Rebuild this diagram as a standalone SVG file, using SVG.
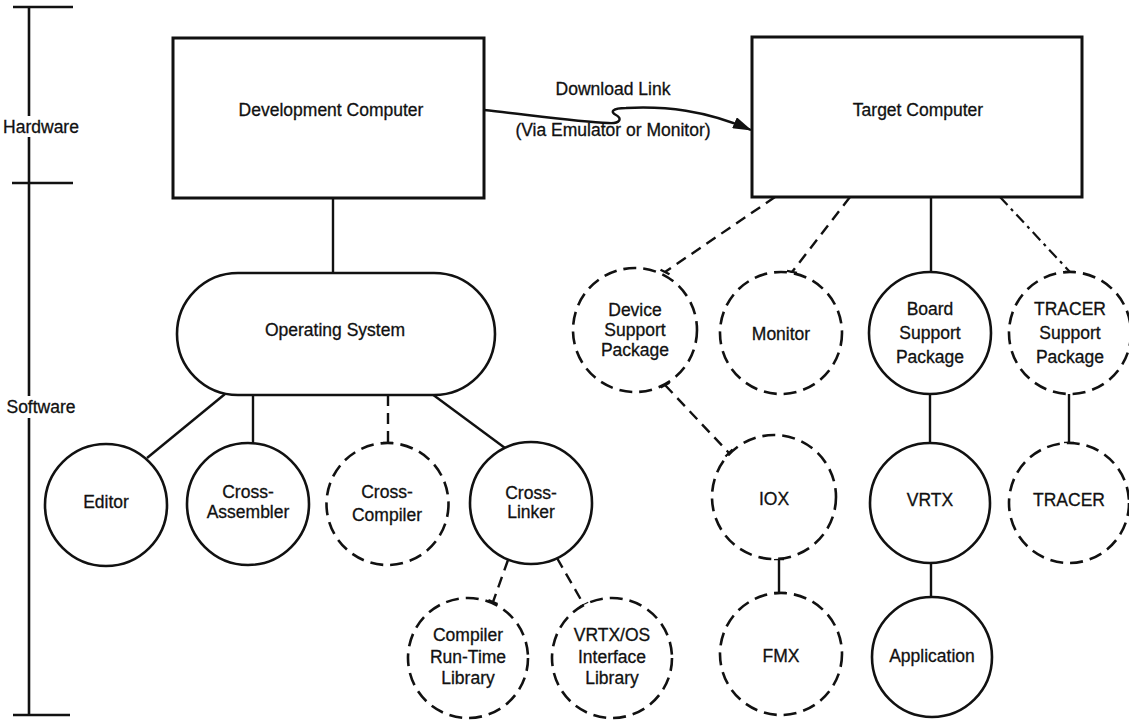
<svg xmlns="http://www.w3.org/2000/svg" width="1129" height="722" viewBox="0 0 1129 722">
  <style>
    text { font-family: "Liberation Sans", Arial, Helvetica, sans-serif; font-size: 17.5px; fill: #111; stroke: #111; stroke-width: 0.3; text-anchor: middle; }
    .box { fill: #fff; stroke: #111; stroke-width: 3; }
    .solid { fill: #fff; stroke: #111; stroke-width: 2.6; }
    .dashed { fill: #fff; stroke: #111; stroke-width: 2.6; stroke-dasharray: 13 7; }
    .ln { fill: none; stroke: #111; stroke-width: 2.4; }
    .dl { fill: none; stroke: #111; stroke-width: 2.4; stroke-dasharray: 11 7; }
    .dd { fill: none; stroke: #111; stroke-width: 2.2; stroke-dasharray: 11 5 3 5; }
    .tick { fill: none; stroke: #111; stroke-width: 2.4; }
    .axis { fill: none; stroke: #111; stroke-width: 2.6; }
  </style>
  <defs>
    <marker id="arrow" markerWidth="20" markerHeight="12" refX="18" refY="6" orient="auto" markerUnits="userSpaceOnUse">
      <path d="M0,0 L19,6 L0,12 Z" fill="#111"/>
    </marker>
  </defs>
  <rect width="1129" height="722" fill="#fff"/>

  <!-- Hardware / Software scale on the left -->
  <g id="scale">
    <path class="axis" d="M29,7 V116 M29,137 V396 M29,418 V715"/>
    <path class="axis" d="M13,7 H73 M12,183 H73 M13,715 H70"/>
    <text x="41" y="133">Hardware</text>
    <text x="41" y="413">Software</text>
  </g>

  <!-- connectors -->
  <g id="connectors">
    <!-- host side -->
    <path class="ln" d="M333,198 V273"/>
    <path class="ln" d="M225,394 L147,458"/>
    <path class="ln" d="M253,395 V443"/>
    <path class="dl" d="M388,395 V443"/>
    <path class="ln" d="M432,394 L505,448"/>
    <path class="dl" d="M508,560 L493,602"/>
    <path class="dl" d="M557,558 L584,605"/>
    <!-- download link -->
    <path class="ln" marker-end="url(#arrow)" d="M484,110 C530,115 580,122 608,123 C621,124 622,118 616,115 C610,112 612,108 626,108 C665,106 705,110 751,130"/>
    <!-- target side -->
    <path class="dl" d="M775,197 L665,272"/>
    <path class="dl" d="M850,197 L792,272"/>
    <path class="ln" d="M931,197 V272"/>
    <path class="dd" d="M1000,197 L1070,272"/>
    <path class="dl" d="M665,385 L729,453"/>
    <path class="ln" d="M779,559 V593"/>
    <path class="ln" d="M930,393 V443"/>
    <path class="ln" d="M1069,394 V443"/>
    <path class="ln" d="M931,563 V598"/>
    <!-- end ticks where lines meet dashed outlines -->
    <path class="tick" d="M383,443 H393 M660.5,269.7 L669.5,274.3 M787,271 L797,273 M1065,272 H1075 M660.6,387.4 L669.4,382.6 M725.5,456.5 L732.5,449.5 M774,559 H784 M774,593 H786 M488.4,600 L497.6,604 M579.5,607.3 L588.5,602.7 M1064,443 H1074"/>
  </g>

  <g id="development-computer">
    <rect class="box" x="173" y="38" width="311" height="160"/>
    <text x="331" y="116">Development Computer</text>
  </g>

  <g id="download-link-label">
    <text x="613" y="95">Download Link</text>
    <text x="613" y="136">(Via Emulator or Monitor)</text>
  </g>

  <g id="target-computer">
    <rect class="box" x="752" y="37" width="330" height="160"/>
    <text x="918" y="116">Target Computer</text>
  </g>

  <g id="operating-system">
    <rect class="solid" x="177" y="273" width="318" height="122" rx="61" ry="61"/>
    <text x="335" y="336">Operating System</text>
  </g>

  <g id="editor">
    <circle class="solid" cx="106" cy="505" r="61"/>
    <text x="106" y="508">Editor</text>
  </g>

  <g id="cross-assembler">
    <circle class="solid" cx="248" cy="504" r="61"/>
    <text x="248" y="498">Cross-</text>
    <text x="248" y="518">Assembler</text>
  </g>

  <g id="cross-compiler">
    <circle class="dashed" cx="387.5" cy="504" r="61"/>
    <text x="387" y="498">Cross-</text>
    <text x="387" y="521">Compiler</text>
  </g>

  <g id="cross-linker">
    <circle class="solid" cx="531" cy="503" r="61"/>
    <text x="531" y="499">Cross-</text>
    <text x="531" y="518">Linker</text>
  </g>

  <g id="compiler-run-time-library">
    <circle class="dashed" cx="468" cy="658" r="60"/>
    <text x="468" y="641">Compiler</text>
    <text x="468" y="663">Run-Time</text>
    <text x="468" y="684">Library</text>
  </g>

  <g id="vrtx-os-interface-library">
    <circle class="dashed" cx="612" cy="658" r="60"/>
    <text x="612" y="641">VRTX/OS</text>
    <text x="612" y="663">Interface</text>
    <text x="612" y="684">Library</text>
  </g>

  <g id="device-support-package">
    <circle class="dashed" cx="635" cy="330" r="62"/>
    <text x="635" y="316">Device</text>
    <text x="635" y="336">Support</text>
    <text x="635" y="356">Package</text>
  </g>

  <g id="monitor">
    <circle class="dashed" cx="781" cy="333" r="61"/>
    <text x="781" y="340">Monitor</text>
  </g>

  <g id="board-support-package">
    <circle class="solid" cx="930" cy="333" r="61"/>
    <text x="930" y="315">Board</text>
    <text x="930" y="339">Support</text>
    <text x="930" y="363">Package</text>
  </g>

  <g id="tracer-support-package">
    <circle class="dashed" cx="1070" cy="333" r="61"/>
    <text x="1070" y="315">TRACER</text>
    <text x="1070" y="339">Support</text>
    <text x="1070" y="363">Package</text>
  </g>

  <g id="iox">
    <circle class="dashed" cx="774" cy="497" r="62"/>
    <text x="774" y="505">IOX</text>
  </g>

  <g id="fmx">
    <circle class="dashed" cx="781" cy="654" r="61"/>
    <text x="781" y="662">FMX</text>
  </g>

  <g id="vrtx">
    <circle class="solid" cx="930" cy="503" r="60"/>
    <text x="930" y="506">VRTX</text>
  </g>

  <g id="application">
    <circle class="solid" cx="932" cy="657" r="60"/>
    <text x="932" y="662">Application</text>
  </g>

  <g id="tracer">
    <circle class="dashed" cx="1069" cy="503" r="60"/>
    <text x="1069" y="506">TRACER</text>
  </g>
</svg>
